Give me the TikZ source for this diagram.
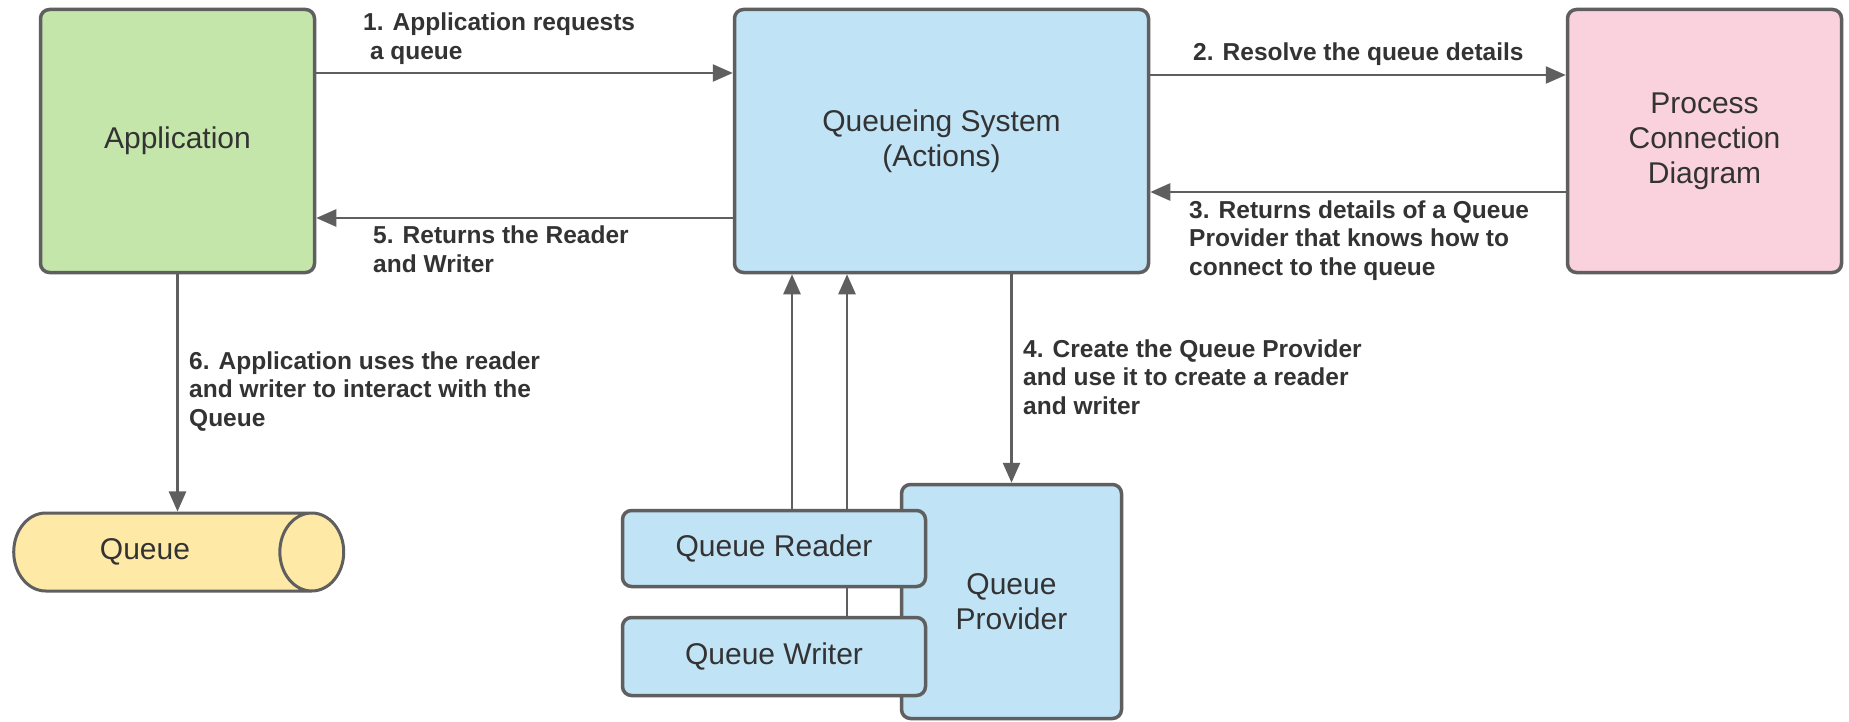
\documentclass[tikz,border=0pt]{standalone}
\usepackage{fontspec}
\setmainfont{Liberation Sans}
\usetikzlibrary{arrows.meta,shapes.geometric}
\definecolor{appgreen}{HTML}{C5E6AB}
\definecolor{qsblue}{HTML}{C1E3F6}
\definecolor{pcdpink}{HTML}{F9D2DD}
\definecolor{queueyellow}{HTML}{FFE9A6}
\definecolor{edgegrey}{HTML}{5F5F5F}
\definecolor{txt}{HTML}{333333}
\begin{document}
\begin{tikzpicture}[x=1pt,y=-1pt,
 box/.style={draw=edgegrey, line width=3.5pt, rounded corners=9pt, text=txt, align=center, font=\fontsize{30}{35}\selectfont, inner sep=0pt},
 arr/.style={draw=edgegrey, line width=2.5pt, -{Triangle[length=20pt,width=17pt]}},
 lbl/.style={text=txt, align=left, anchor=base west, inner sep=0pt, font=\fontsize{24.5}{28.5}\selectfont\bfseries},
 cyl/.style={shape=cylinder, draw=edgegrey, line width=3pt, fill=queueyellow, aspect=2.4, text=txt, font=\fontsize{30}{35}\selectfont, inner sep=0pt}]
\useasboundingbox[fill=white] (0,0) rectangle (1849,722);
% main boxes
\node[box, fill=appgreen, minimum width=274pt, minimum height=263pt] (App) at (177.5,141) {Application};
\node[box, fill=qsblue, minimum width=414pt, minimum height=263pt] (QS) at (941.5,141) {Queueing System\\(Actions)};
\node[box, fill=pcdpink, minimum width=274pt, minimum height=263pt] (PCD) at (1704.5,141) {Process\\Connection\\Diagram};
\node[cyl, minimum width=78pt, minimum height=330pt] (Queue) at (162,552) {Queue\hspace*{34pt}};
% provider, writer, reader
\node[box, fill=qsblue, minimum width=220pt, minimum height=234pt] (Prov) at (1011.5,601.5) {Queue\\Provider};
\node[box, fill=qsblue, minimum width=303pt, minimum height=78pt] (Writer) at (774,656.5) {Queue Writer};
\draw[arr] ([xshift=73pt]Writer.north) -- ([xshift=73pt]Writer.north |- QS.south);
\node[box, fill=qsblue, minimum width=303pt, minimum height=76pt] (Reader) at (774,548.5) {Queue Reader};
\draw[arr] ([xshift=18pt]Reader.north) -- ([xshift=18pt]Reader.north |- QS.south);
% connectors
\draw[arr] (App.east |- 0,73) -- (QS.west |- 0,73);
\draw[arr] (QS.west |- 0,218) -- (App.east |- 0,218);
\draw[arr] (QS.east |- 0,75) -- (PCD.west |- 0,75);
\draw[arr] (PCD.west |- 0,192) -- (QS.east |- 0,192);
\draw[arr] (App.south) -- (App.south |- Queue.north);
\draw[arr] (QS.south -| Prov.north) -- (Prov.north);
% labels (anchor is baseline of the last line)
\node[lbl] (L1) at (363,59.5) {1. Application requests\\\ a queue};
\node[lbl] (L2) at (1193,61) {2. Resolve the queue details};
\node[lbl] (L3) at (1189,275) {3. Returns details of a Queue\\Provider that knows how to\\connect to the queue};
\node[lbl] (L4) at (1023,414) {4. Create the Queue Provider\\and use it to create a reader\\and writer};
\node[lbl] (L5) at (373,272.5) {5. Returns the Reader\\and Writer};
\node[lbl] (L6) at (189,426) {6. Application uses the reader\\and writer to interact with the\\Queue};
\end{tikzpicture}
\end{document}
